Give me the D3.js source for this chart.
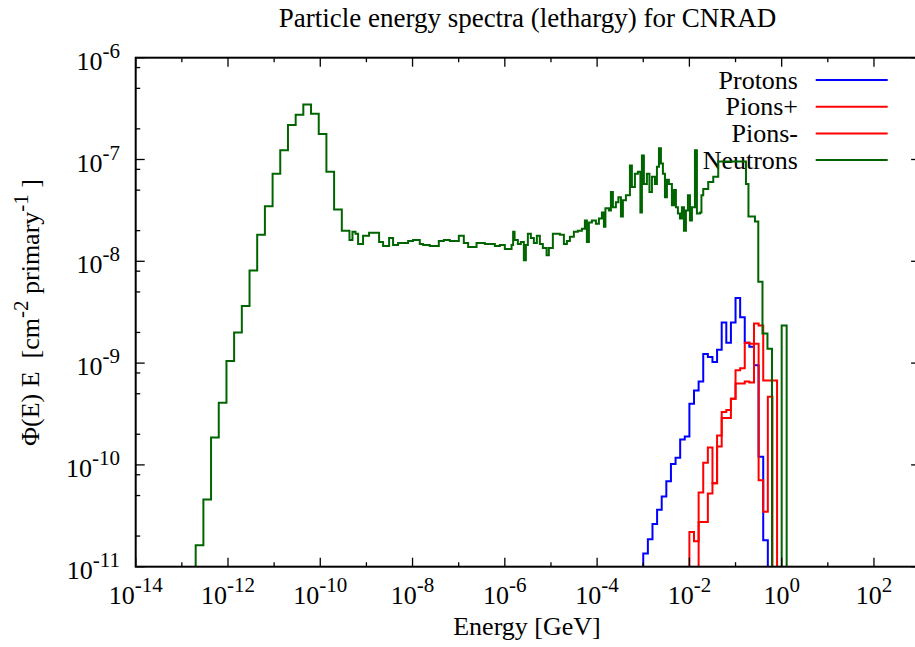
<!DOCTYPE html>
<html>
<head>
<meta charset="utf-8">
<script src="https://cdn.jsdelivr.net/npm/d3@7"></script>
<style>
  body { margin: 0; background: #fff; }
  svg { display: block; font-family: "Liberation Serif", "Times New Roman", serif; }
  text { white-space: pre; fill: #000; }
</style>
</head>
<body>
<svg id="chart" width="915" height="647"></svg>
<script>

const SERIES_NAMES = ["Protons", "Pions+", "Pions-", "Neutrons"];
const SERIES_COLORS = ["#0000ff", "#ff0000", "#ff0000", "#006400"];

// histograms: log10 of bin edges [GeV] and log10 of Phi(E)E per bin (null = empty bin)
const PROTON_LOG_E = [-3.0, -2.9, -2.8, -2.7, -2.6, -2.5, -2.4, -2.3, -2.2, -2.1, -2.0, -1.9, -1.8, -1.7,
                      -1.6, -1.5, -1.4, -1.3, -1.2, -1.1, -1.0, -0.9, -0.8, -0.7, -0.6, -0.5, -0.4, -0.3];
const PROTON_LOG_PHI = [-10.87, -10.73, -10.58, -10.44, -10.31, -10.16, -9.99, -9.93, -9.75, -9.72,
                        -9.40, -9.27, -9.18, -8.91, -8.94, -8.99, -8.87, -8.60, -8.80, -8.60,
                        -8.36, -8.55, -8.80, -8.84, -9.02, -9.92, -10.74];

const PIPLUS_LOG_E = [-2.0, -1.9, -1.8, -1.7, -1.6, -1.5, -1.4, -1.3, -1.2, -1.1, -1.0,
                      -0.9, -0.8, -0.7, -0.6, -0.5, -0.4, -0.3, -0.2, -0.1];
const PIPLUS_LOG_PHI = [-10.66, -10.75, -10.27, -9.98, -9.83, -10.18, -9.71, -9.48, -9.46, -9.35,
                        -9.07, -9.05, -8.80, -8.81, -8.61, -8.63, -9.17, -9.17, -9.17];

const PIMINUS_LOG_E = [-1.8, -1.7, -1.6, -1.5, -1.4, -1.3, -1.2, -1.1, -1.0,
                       -0.9, -0.8, -0.7, -0.6, -0.5, -0.4, -0.3, -0.2];
const PIMINUS_LOG_PHI = [-10.56, -10.56, -10.28, -10.18, -9.82, -9.54, -9.54, -9.35,
                         -9.20, -9.20, -9.18, -9.19, -8.81, -10.15, -10.46, -9.33];

const NEUTRON_LOG_E = [
  -12.7, -12.533, -12.367, -12.2, -12.033, -11.867, -11.7, -11.533, -11.367, -11.2, -11.033,
  -10.867, -10.7, -10.533, -10.367, -10.2, -10.033, -9.867, -9.7, -9.533,
  -9.367, -9.302, -9.237, -9.18, -9.072, -8.942, -8.725, -8.638, -8.508, -8.422, -8.313,
  -8.096, -7.988, -7.843, -7.771, -7.626, -7.431, -7.322, -7.192, -6.997, -6.889, -6.795,
  -6.613, -6.433, -6.216, -6.108, -6.0,
  -5.854, -5.82, -5.789, -5.718, -5.653, -5.588, -5.544, -5.501, -5.436, -5.371, -5.306,
  -5.241, -5.176, -5.095, -5.046, -4.959, -4.894, -4.807, -4.72, -4.655, -4.59, -4.504,
  -4.417, -4.33, -4.265, -4.222, -4.178, -4.113, -4.026, -3.961, -3.896, -3.853, -3.82,
  -3.745, -3.701, -3.658, -3.593, -3.539, -3.484, -3.441, -3.376, -3.289, -3.246, -3.181,
  -3.116, -3.062, -3.029, -2.986, -2.921, -2.866, -2.812, -2.747, -2.704, -2.66, -2.617,
  -2.574, -2.53, -2.487, -2.444, -2.379, -2.335, -2.292, -2.249, -2.205, -2.162, -2.118,
  -2.075, -2.032, -1.988, -1.945, -1.88, -1.837, -1.771, -1.739, -1.7, -1.592, -1.483,
  -1.375, -0.774, -0.72, -0.579, -0.507, -0.416, -0.308, -0.21, 0.0, 0.108
];
const NEUTRON_LOG_PHI = [
  -10.79, -10.34, -9.73, -9.39, -8.98, -8.70, -8.44, -8.09, -7.74, -7.46,
  -7.14, -6.91, -6.66, -6.56, -6.46, -6.55, -6.75, -7.12, -7.49, -7.70,
  -7.79, -7.71, -7.73, -7.83, -7.75, -7.72, -7.81, -7.85, -7.77, -7.84,
  -7.82, -7.80, -7.79, -7.83, -7.84, -7.85, -7.80, -7.79, -7.80, -7.75,
  -7.82, -7.86, -7.82, -7.83, -7.85, -7.84, -7.88,
  -7.84, -7.71, -7.79, -7.83, -7.81, -7.99, -7.84, -7.73, -7.77, -7.82,
  -7.75, -7.83, -7.87, -7.94, -7.87, -7.73, -7.73, -7.74, -7.83, -7.80,
  -7.76, -7.71, -7.70, -7.68, -7.60, -7.81, -7.62, -7.60, -7.63, -7.58,
  -7.52, -7.66, -7.48, -7.50, -7.32, -7.47, -7.42, -7.37, -7.56, -7.40,
  -7.35, -7.06, -7.27, -7.14, -7.12, -7.52, -6.96, -7.24, -7.14, -7.32,
  -7.17, -7.24, -7.07, -6.89, -7.04, -7.14, -7.37, -7.20, -7.24, -7.45,
  -7.30, -7.47, -7.53, -7.58, -7.47, -7.70, -7.50, -7.35, -7.60, -7.47,
  -6.91, -7.53, -7.52, -7.35, -7.29, -7.22, -7.17, -7.02, -7.24, -7.56,
  -7.61, -8.20, -8.71, -8.86, null, -8.63
];

const X_MAJOR = [-14, -12, -10, -8, -6, -4, -2, 0, 2];
const X_MINOR = [-13, -11, -9, -7, -5, -3, -1, 1];
const Y_MAJOR = [-11, -10, -9, -8, -7, -6];
const Y_MINOR_MANTISSA = [2, 5, 8];

const LEFT = 135.7, RIGHT = 920.1, TOP = 57.7, BOTTOM = 566.7;
const FLOOR = 1e-13;

let svg = d3.select("#chart");

let x = d3.scaleLog().domain([1e-14, 1e3]).range([LEFT, RIGHT]);
let y = d3.scaleLog().domain([1e-11, 1e-6]).range([BOTTOM, TOP]);

svg.append("defs").append("clipPath").attr("id", "plot-clip")
   .append("rect")
   .attr("x", LEFT).attr("y", TOP)
   .attr("width", RIGHT - LEFT).attr("height", BOTTOM - TOP);

/*
  Writes "10" with a raised exponent into a text element.
*/
const powerLabel = (sel, exp) => {
  sel.append("tspan").text("10");
  sel.append("tspan").attr("font-size", 21).attr("dy", -12).text(exp);
}

/*
  Ticks on all four sides, pointing inwards.
*/
const buildAxes = () => {
  let g = svg.append("g").attr("stroke", "#000").attr("stroke-width", 1.3);

  const xTicks = [...X_MAJOR.map(e => ({e, len: 9})), ...X_MINOR.map(e => ({e, len: 4.5}))];
  xTicks.forEach(t => {
    let px = x(10 ** t.e);
    g.append("line").attr("x1", px).attr("x2", px).attr("y1", BOTTOM).attr("y2", BOTTOM - t.len);
    g.append("line").attr("x1", px).attr("x2", px).attr("y1", TOP).attr("y2", TOP + t.len);
  });

  let yTicks = Y_MAJOR.map(e => ({v: 10 ** e, len: 9}));
  Y_MAJOR.slice(0, -1).forEach(e => Y_MINOR_MANTISSA.forEach(m => yTicks.push({v: m * 10 ** e, len: 4.5})));
  yTicks.forEach(t => {
    let py = y(t.v);
    g.append("line").attr("x1", LEFT).attr("x2", LEFT + t.len).attr("y1", py).attr("y2", py);
    g.append("line").attr("x1", RIGHT).attr("x2", RIGHT - t.len).attr("y1", py).attr("y2", py);
  });

  svg.append("rect")
     .attr("x", LEFT).attr("y", TOP)
     .attr("width", RIGHT - LEFT).attr("height", BOTTOM - TOP)
     .attr("fill", "none").attr("stroke", "#000").attr("stroke-width", 2);

  X_MAJOR.forEach(e => {
    let t = svg.append("text")
               .attr("x", x(10 ** e)).attr("y", 604)
               .attr("text-anchor", "middle").attr("font-size", 26);
    powerLabel(t, String(e));
  });

  Y_MAJOR.forEach(e => {
    let t = svg.append("text")
               .attr("x", 120).attr("y", y(10 ** e) + 12)
               .attr("text-anchor", "end").attr("font-size", 26);
    powerLabel(t, String(e));
  });
}

/*
  Title and axis labels.
*/
const buildLabels = () => {
  svg.append("text")
     .attr("x", 527.5).attr("y", 27)
     .attr("text-anchor", "middle").attr("font-size", 27)
     .text("Particle energy spectra (lethargy) for CNRAD");

  svg.append("text")
     .attr("x", 527).attr("y", 635)
     .attr("text-anchor", "middle").attr("font-size", 26)
     .text("Energy [GeV]");

  let yl = svg.append("text")
              .attr("transform", "translate(38.5,446) rotate(-90)")
              .attr("text-anchor", "start").attr("font-size", 26);
  yl.append("tspan").text("\u03A6(E) E  [cm");
  yl.append("tspan").attr("font-size", 21).attr("dy", -11).text("-2");
  yl.append("tspan").attr("dy", 11).text(" primary");
  yl.append("tspan").attr("font-size", 21).attr("dy", -11).text("-1");
  yl.append("tspan").attr("dy", 11).text(" ]");
}

/*
  Legend in the upper right corner.
*/
const buildLegend = () => {
  SERIES_NAMES.forEach((name, i) => {
    let ly = 80 + i * 26.7;
    svg.append("text")
       .attr("x", 798).attr("y", ly + 8.5)
       .attr("text-anchor", "end").attr("font-size", 26)
       .text(name);
    svg.append("line")
       .attr("x1", 815.7).attr("x2", 887.7).attr("y1", ly).attr("y2", ly)
       .attr("stroke", SERIES_COLORS[i]).attr("stroke-width", 2);
  });
}

/*
  Histogram drawn as steps; empty bins drop below the axis.
*/
const drawHistogram = (logE, logPhi, color) => {
  let pts = [[logE[0], null]];
  logPhi.forEach((v, i) => {
    pts.push([logE[i], v]);
    pts.push([logE[i + 1], v]);
  });
  pts.push([logE[logE.length - 1], null]);

  let line = d3.line()
               .x(d => x(10 ** d[0]))
               .y(d => d[1] === null ? y(FLOOR) : y(10 ** d[1]));

  svg.append("path")
     .datum(pts)
     .attr("clip-path", "url(#plot-clip)")
     .attr("d", line)
     .attr("fill", "none")
     .attr("stroke", color)
     .attr("stroke-width", 2)
     .attr("stroke-linejoin", "miter");
}

buildLabels();
buildLegend();
drawHistogram(PROTON_LOG_E, PROTON_LOG_PHI, SERIES_COLORS[0]);
drawHistogram(PIPLUS_LOG_E, PIPLUS_LOG_PHI, SERIES_COLORS[1]);
drawHistogram(PIMINUS_LOG_E, PIMINUS_LOG_PHI, SERIES_COLORS[2]);
drawHistogram(NEUTRON_LOG_E, NEUTRON_LOG_PHI, SERIES_COLORS[3]);
buildAxes();

</script>
</body>
</html>
